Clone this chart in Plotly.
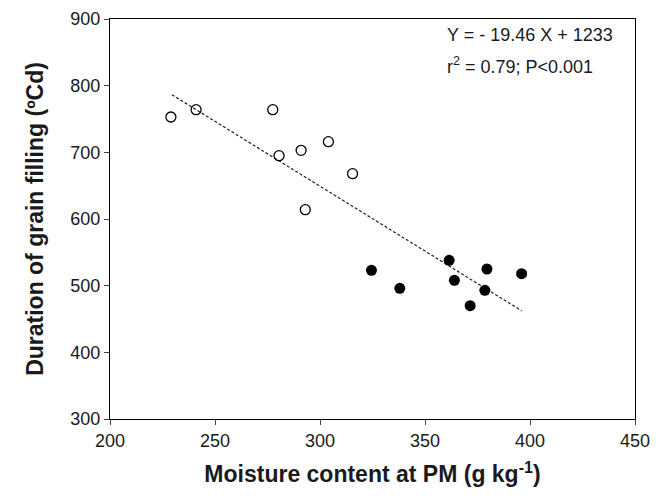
import plotly.graph_objects as go

# open circles (early group)
open_x = [229, 241, 277.5, 280.5, 291, 293, 304, 315.5]
open_y = [753, 764, 764, 695, 703, 614, 716, 668]

# filled circles (late group)
fill_x = [324.5, 338, 361.5, 364, 371.5, 378.5, 379.5, 396]
fill_y = [523, 496, 538, 508, 470, 493, 525, 518]

# regression line Y = -19.46 X + 1233 (X in %, i.e. g/kg divided by 10)
fit_x = [229.5, 396]
fit_y = [-19.46 * (v / 10) + 1233 for v in fit_x]

font = "Liberation Sans, Arial, sans-serif"
ink = "#1a1a1a"

fig = go.Figure()
fig.add_trace(go.Scatter(x=fit_x, y=fit_y, mode="lines",
                         line=dict(color="#222222", width=1.2, dash="3px,2px"),
                         showlegend=False))
fig.add_trace(go.Scatter(x=open_x, y=open_y, mode="markers",
                         marker=dict(symbol="circle-open", size=10, color="black",
                                     line=dict(width=1.3, color="black")),
                         showlegend=False))
fig.add_trace(go.Scatter(x=fill_x, y=fill_y, mode="markers",
                         marker=dict(symbol="circle", size=11, color="black"),
                         showlegend=False))

fig.add_annotation(x=0.638, y=0.96, xref="paper", yref="paper",
                   xanchor="left", yanchor="middle", showarrow=False,
                   text="Y = - 19.46 X + 1233",
                   font=dict(family=font, size=18, color=ink))
fig.add_annotation(x=0.638, y=0.885, xref="paper", yref="paper",
                   xanchor="left", yanchor="middle", showarrow=False,
                   text="r<sup>2</sup> = 0.79; P<0.001",
                   font=dict(family=font, size=18, color=ink))

fig.update_xaxes(range=[200, 450], tickvals=[200, 250, 300, 350, 400, 450],
                 showgrid=False, zeroline=False, showline=True, linecolor="black",
                 linewidth=1, mirror=True, ticks="outside", ticklen=5,
                 tickfont=dict(family=font, size=18, color=ink),
                 title=dict(text="<b>Moisture content at PM (g kg<sup>-1</sup>)</b>",
                            font=dict(family=font, size=23, color=ink), standoff=16))
fig.update_yaxes(range=[300, 900], tickvals=[300, 400, 500, 600, 700, 800, 900],
                 showgrid=False, zeroline=False, showline=True, linecolor="black",
                 linewidth=1, mirror=True, ticks="outside", ticklen=5,
                 tickfont=dict(family=font, size=18, color=ink),
                 title=dict(text="<b>Duration of grain filling (ºCd)</b>",
                            font=dict(family=font, size=23, color=ink), standoff=20))

fig.update_layout(width=652, height=491, plot_bgcolor="white", paper_bgcolor="white",
                  margin=dict(l=102, r=25, t=11, b=80, autoexpand=False))

fig.write_html("out.html")
